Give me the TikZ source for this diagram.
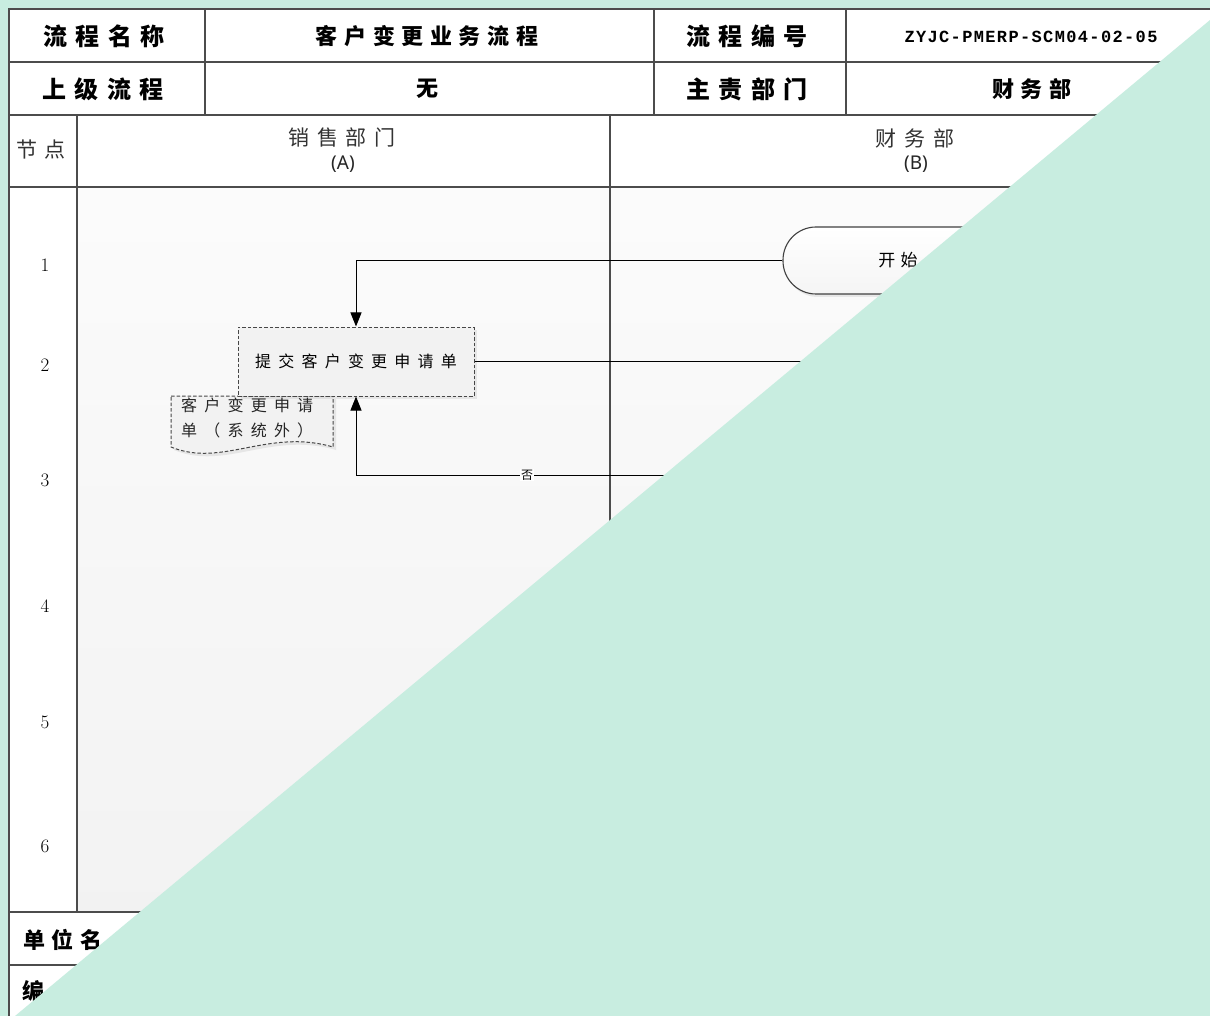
\documentclass[tikz,border=0pt]{standalone}
\usepackage{fontspec}
\newfontfamily\cjkhd[LetterSpace=36]{Noto Sans CJK SC}
\newfontfamily\cjkmid[LetterSpace=30]{Noto Sans CJK SC}
\newfontfamily\cjklane[LetterSpace=36]{Noto Sans CJK SC}
\newfontfamily\cjkbox[LetterSpace=45]{Noto Sans CJK SC}
\newfontfamily\cjk{Noto Sans CJK SC}
\newfontfamily\codefont[LetterSpace=8]{Liberation Mono}
\newfontfamily\latinsans{Noto Sans}
\usetikzlibrary{arrows.meta,shadows}
\definecolor{mint}{RGB}{200,237,224}

\begin{document}
\begin{tikzpicture}[x=1pt,y=-1pt,
  frame/.style={draw=black!70,line width=1.3pt},
  head/.style={font=\cjkhd\bfseries\fontsize{24}{24}\selectfont},
  headval/.style={font=\cjkmid\bfseries\fontsize{22}{22}\selectfont},
  foot/.style={font=\cjkmid\bfseries\fontsize{22}{22}\selectfont},
  lane/.style={font=\cjklane\fontsize{21}{21}\selectfont,text=black!80},
  laneid/.style={font=\latinsans\fontsize{19}{19}\selectfont,text=black!85},
  num/.style={font=\fontsize{19}{19}\selectfont},
  task/.style={draw=black!72,dash pattern=on 3.5pt off 2pt,line width=1pt,fill=gray!10,
    minimum width=236pt,minimum height=69pt,font=\cjkbox\fontsize{16}{16}\selectfont,
    drop shadow={shadow xshift=3pt,shadow yshift=-3pt,opacity=0.15}},
  term/.style={draw=black!75,line width=1.1pt,rounded corners=33pt,top color=white,bottom color=gray!8,
    minimum width=230pt,minimum height=67pt,font=\cjkmid\fontsize{17}{17}\selectfont,
    drop shadow={shadow xshift=2pt,shadow yshift=-3pt,opacity=0.15}},
  link/.style={line width=1pt,-{Triangle[width=11pt,length=14pt]}},
  lbl/.style={fill=white,inner sep=1pt,font=\cjk\fontsize{12}{12}\selectfont}]
\useasboundingbox (0,0) rectangle (1210,1016);
\clip (0,0) rectangle (1210,1016);
\fill[mint] (0,0) rectangle (1210,1016);

% table
\fill[white] (9,9) rectangle (1230,1030);
\shade[top color=gray!3,bottom color=gray!10] (77,187) rectangle (1230,912);
\draw[frame] (9,9) rectangle (1230,1030);
\draw[frame] (9,62) -- (1230,62);
\draw[frame] (9,115) -- (1230,115);
\draw[frame] (9,187) -- (1230,187);
\draw[frame] (9,912) -- (1230,912);
\draw[frame] (9,965) -- (1230,965);
\foreach \x in {205,654,846} \draw[frame] (\x,9) -- (\x,115);
\draw[frame] (77,115) -- (77,912);
\draw[frame] (610,115) -- (610,912);

\node[head] (hname) at (104,36) {流程名称};
\node[headval] (vname) at (427,36) {客户变更业务流程};
\node[head] (hcode) at (747,36) {流程编号};
\node[font=\codefont\bfseries\fontsize{17}{17}\selectfont] (vcode) at (1031,37) {ZYJC-PMERP-SCM04-02-05};
\node[head] (hup) at (103,89) {上级流程};
\node[headval] (vup) at (427,89) {无};
\node[head] (hdep) at (747,89) {主责部门};
\node[headval] (vdep) at (1032,89) {财务部};

\node[lane] (hnode) at (41,150) {节点};
\node[lane] (laneA) at (342,138) {销售部门};
\node[laneid] (idA) at (343,164) {(A)};
\node[lane] (laneB) at (915,138) {财务部};
\node[laneid] (idB) at (916,164) {(B)};

\foreach \n/\y in {1/265,2/365,3/480,4/606,5/722,6/846}
  \node[num] (n\n) at (45,\y) {\n};

\node[foot] (unit) at (63,940) {单位名};
\node[foot] (edit) at (34,991) {编};

% flow
\node[term] (start) at (898,260.5) {开始};
\draw[draw=black!72,dash pattern=on 3.5pt off 2pt,line width=1pt,fill=gray!10,
  drop shadow={shadow xshift=3pt,shadow yshift=-3pt,opacity=0.15}]
  (171,396) -- (333,396) -- (333,447) .. controls (268,428) and (222,468) .. (171,447) -- cycle;
\node[task] (submit) at (356,361.5) {提交客户变更申请单};
\node[font=\cjkbox\fontsize{16}{25}\selectfont,align=left,anchor=north west,inner sep=0pt,text=black!85]
  (req) at (181,398) {客户变更申请\\单（系统外）};

\coordinate (outB2) at (830,361.5);
\coordinate (inB3) at (720,475);
\draw[link] (start.west) -| (submit.north);
\draw[line width=1pt] (submit.east) -- (outB2);
\draw[link] (inB3) -| node[lbl,pos=0.265] {否} (submit.south);

% cover
\fill[mint] (1210,20) -- (1210,1016) -- (15,1016) -- cycle;
\end{tikzpicture}
\end{document}
